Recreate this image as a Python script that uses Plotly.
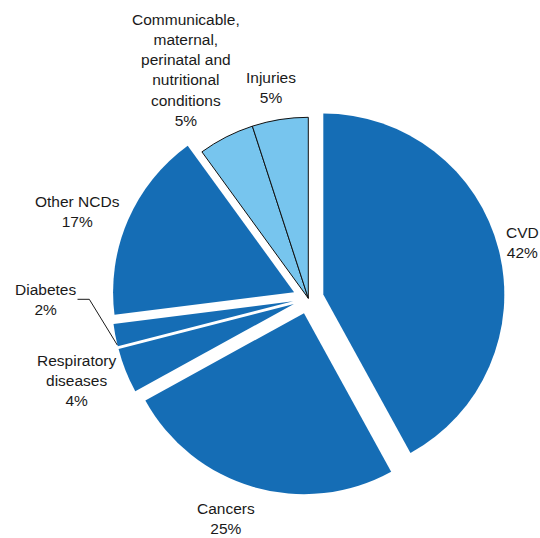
import plotly.graph_objects as go

# ---- data ----
categories = ["CVD", "Cancers", "Respiratory diseases", "Diabetes", "Other NCDs",
              "Communicable, maternal, perinatal and nutritional conditions", "Injuries"]
label_lines = ["CVD", "Cancers", "Respiratory<br>diseases", "Diabetes", "Other NCDs",
               "Communicable,<br>maternal,<br>perinatal and<br>nutritional<br>conditions", "Injuries"]
values = [42, 25, 4, 2, 17, 5, 5]
group = ["ncd", "ncd", "ncd", "ncd", "ncd", "other", "other"]

# ---- layout / style ----
W, H = 540, 538
OFF = 0                  # body margin removed by post_script below
DARK = "#156db5"
LIGHT = "#77c5ee"
TEXT = "#1a1a1a"
FONT = "Liberation Sans, Arial, Helvetica, sans-serif"
FS = 15.5

PULL = 0.0856
R = 181.0
CX, CY = 308.3, 298.3    # screen px of pie center (unpulled)

# label block centres in screen px
label_pos = [(522, 243), (226, 518), (76, 380), (45.5, 299.5), (78, 211), (186, 69.5), (271, 87)]


def px(x):
    return (x - OFF) / W


def py(y):
    return 1 - (y - OFF) / H


half = R * (1 + PULL)
cxf, cyf = CX - OFF, CY - OFF
dom_x = [(cxf - half) / W, (cxf + half) / W]
dom_y = [(H - (cyf + half)) / H, (H - (cyf - half)) / H]

colors = [DARK if g == "ncd" else LIGHT for g in group]
pulls = [PULL if g == "ncd" else 0 for g in group]
line_w = [0 if g == "ncd" else 1 for g in group]

total = sum(values)
texts = [f"{l}<br>{round(v / total * 100)}%" for l, v in zip(label_lines, values)]

fig = go.Figure(go.Pie(
    labels=categories,
    values=values,
    sort=False,
    direction="clockwise",
    rotation=0,
    pull=pulls,
    automargin=False,
    domain=dict(x=dom_x, y=dom_y),
    marker=dict(colors=colors, line=dict(color="#111111", width=line_w)),
    textinfo="none",
    showlegend=False,
    hoverinfo="label+percent",
))

for t, (x, y) in zip(texts, label_pos):
    fig.add_annotation(
        x=px(x), y=py(y), xref="paper", yref="paper",
        text=t, showarrow=False, xanchor="center", yanchor="middle",
        align="center", font=dict(family=FONT, size=FS, color=TEXT),
    )

# leader line for Diabetes
leader = [(77.5, 299.3), (89.3, 299.3), (117.3, 345)]
path = "M " + " L ".join(f"{px(a)} {py(b)}" for a, b in leader)
fig.add_shape(type="path", path=path, xref="paper", yref="paper",
              line=dict(color=TEXT, width=1))

fig.update_layout(
    width=W, height=H,
    margin=dict(l=0, r=0, t=0, b=0, autoexpand=False),
    paper_bgcolor="white",
    plot_bgcolor="white",
)

fig.write_html(
    "out.html",
    config={"displayModeBar": False},
    post_script="document.body.style.margin='0';document.body.style.overflow='hidden';",
)
